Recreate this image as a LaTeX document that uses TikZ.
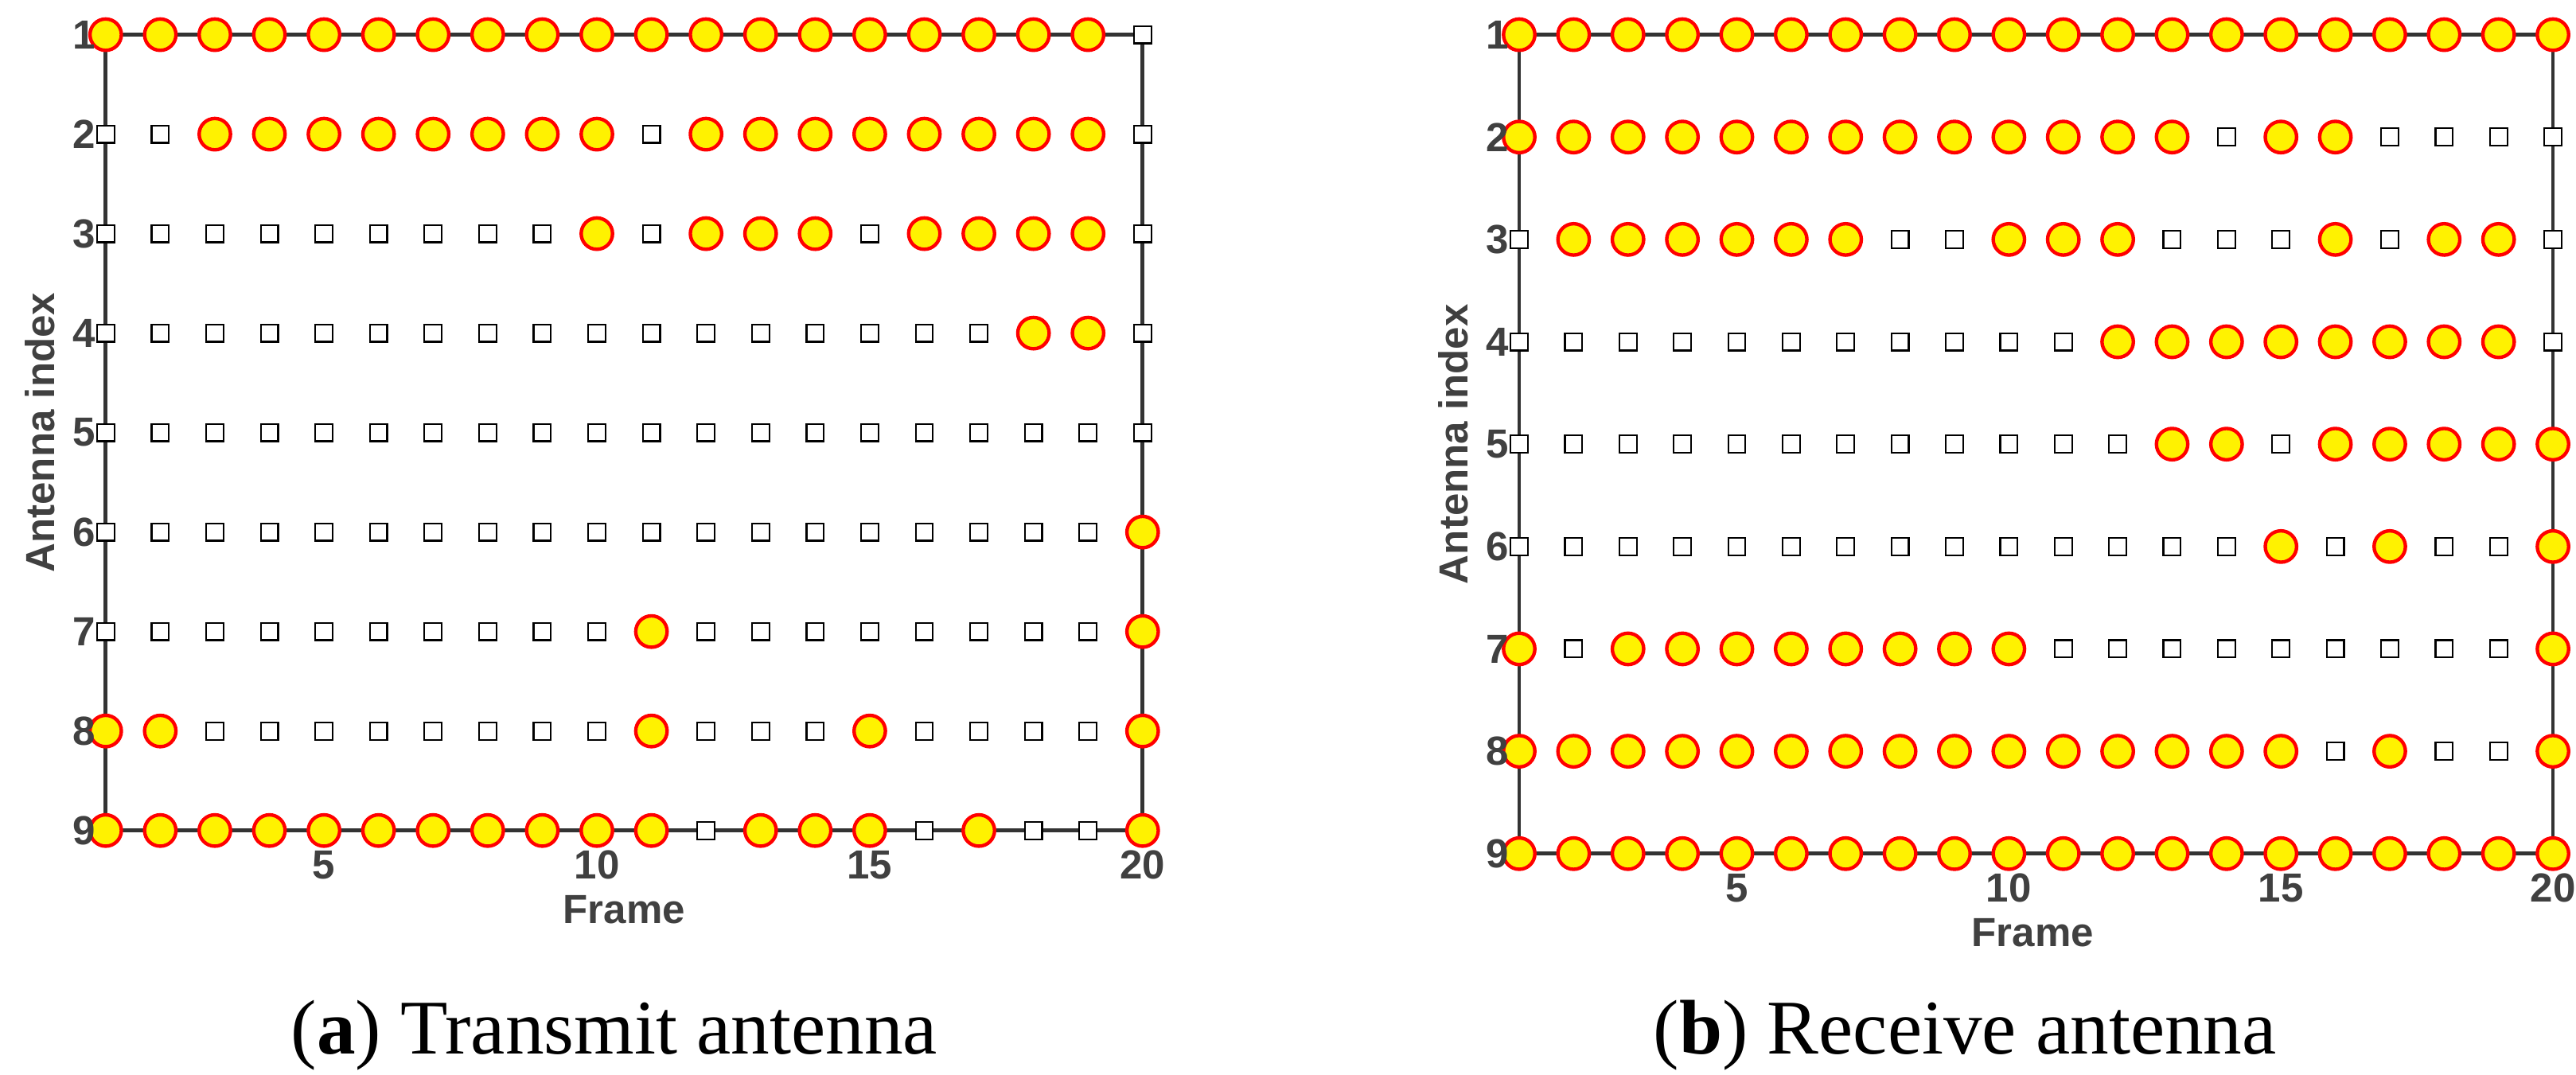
\documentclass[tikz,border=0pt]{standalone}
\usepackage{fontspec}
\setmainfont{Liberation Serif}
\newfontfamily\axf{Liberation Sans}
\begin{document}
\begin{tikzpicture}[x=0.03cm,y=-0.03cm,
  circ/.style={circle,draw=red,fill=yellow,line width=1.8pt,minimum size=19*0.03cm,inner sep=0},
  sq/.style={rectangle,draw=black,fill=white,line width=0.9pt,minimum size=10.5*0.03cm,inner sep=0},
  ax/.style={draw=black!80,line width=2pt},
  lab/.style={font=\axf\bfseries\fontsize{21}{21}\selectfont,text=black!75},
  captxt/.style={font=\fontsize{40}{44}\selectfont}]
\useasboundingbox (0,0) rectangle (1560,651);
% ---------- panel a ----------
\def\xa{64}\def\dxa{33.05}\def\ya{21}\def\dya{60.25}
\draw[ax] (\xa,\ya) rectangle (692,503);
\foreach \r/\pat in {
1/{c,c,c,c,c,c,c,c,c,c,c,c,c,c,c,c,c,c,c,s},
2/{s,s,c,c,c,c,c,c,c,c,s,c,c,c,c,c,c,c,c,s},
3/{s,s,s,s,s,s,s,s,s,c,s,c,c,c,s,c,c,c,c,s},
4/{s,s,s,s,s,s,s,s,s,s,s,s,s,s,s,s,s,c,c,s},
5/{s,s,s,s,s,s,s,s,s,s,s,s,s,s,s,s,s,s,s,s},
6/{s,s,s,s,s,s,s,s,s,s,s,s,s,s,s,s,s,s,s,c},
7/{s,s,s,s,s,s,s,s,s,s,c,s,s,s,s,s,s,s,s,c},
8/{c,c,s,s,s,s,s,s,s,s,c,s,s,s,c,s,s,s,s,c},
9/{c,c,c,c,c,c,c,c,c,c,c,s,c,c,c,s,c,s,s,c}}{
  \foreach \m [count=\f] in \pat {
    \if\m c\node[circ] (a-\r-\f) at ({\xa+(\f-1)*\dxa},{\ya+(\r-1)*\dya}) {};
    \else\node[sq] (a-\r-\f) at ({\xa+(\f-1)*\dxa},{\ya+(\r-1)*\dya}) {};\fi
  }
  \node[lab,anchor=east,inner sep=0] (ya-\r) at ({\xa-6},{\ya+(\r-1)*\dya}) {\r};
}
\foreach \t in {5,10,15,20}
  \node[lab] (xa-\t) at ({\xa+(\t-1)*\dxa},524) {\t};
\node[lab] (fa) at (378,551) {Frame};
\node[lab,rotate=90] (aa) at (24,262) {Antenna index};
\node[captxt] (ca) at (372,627) {(\textbf{a}) Transmit antenna};
% ---------- panel b ----------
\def\xb{920}\def\dxb{32.95}\def\yb{21}\def\dyb{62}
\draw[ax] (\xb,\yb) rectangle (1546,517);
\foreach \r/\pat in {
1/{c,c,c,c,c,c,c,c,c,c,c,c,c,c,c,c,c,c,c,c},
2/{c,c,c,c,c,c,c,c,c,c,c,c,c,s,c,c,s,s,s,s},
3/{s,c,c,c,c,c,c,s,s,c,c,c,s,s,s,c,s,c,c,s},
4/{s,s,s,s,s,s,s,s,s,s,s,c,c,c,c,c,c,c,c,s},
5/{s,s,s,s,s,s,s,s,s,s,s,s,c,c,s,c,c,c,c,c},
6/{s,s,s,s,s,s,s,s,s,s,s,s,s,s,c,s,c,s,s,c},
7/{c,s,c,c,c,c,c,c,c,c,s,s,s,s,s,s,s,s,s,c},
8/{c,c,c,c,c,c,c,c,c,c,c,c,c,c,c,s,c,s,s,c},
9/{c,c,c,c,c,c,c,c,c,c,c,c,c,c,c,c,c,c,c,c}}{
  \foreach \m [count=\f] in \pat {
    \if\m c\node[circ] (b-\r-\f) at ({\xb+(\f-1)*\dxb},{\yb+(\r-1)*\dyb}) {};
    \else\node[sq] (b-\r-\f) at ({\xb+(\f-1)*\dxb},{\yb+(\r-1)*\dyb}) {};\fi
  }
  \node[lab,anchor=east,inner sep=0] (yb-\r) at ({\xb-6},{\yb+(\r-1)*\dyb}) {\r};
}
\foreach \t in {5,10,15,20}
  \node[lab] (xb-\t) at ({\xb+(\t-1)*\dxb},538) {\t};
\node[lab] (fb) at (1231,565) {Frame};
\node[lab,rotate=90] (ab) at (880,269) {Antenna index};
\node[captxt] (cb) at (1190,627) {(\textbf{b}) Receive antenna};
\end{tikzpicture}
\end{document}
